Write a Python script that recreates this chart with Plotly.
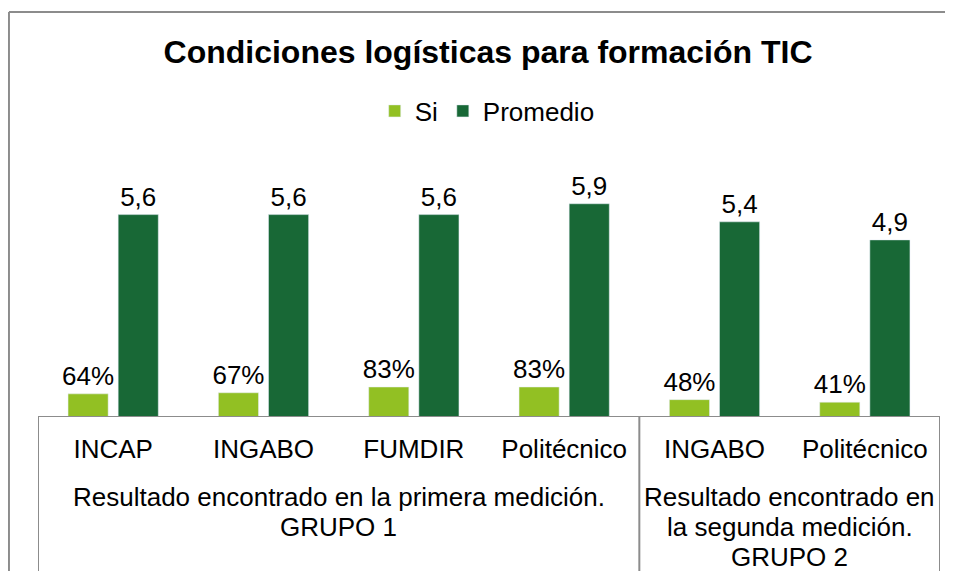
import plotly.graph_objects as go

# data
categories = ["INCAP", "INGABO", "FUMDIR", "Politécnico", "INGABO", "Politécnico"]
group_of = [0, 0, 0, 0, 1, 1]
group_lines = [
    ["Resultado encontrado en la primera medición.", "GRUPO 1"],
    ["Resultado encontrado en", "la segunda medición.", "GRUPO 2"],
]
si_values = [0.64, 0.67, 0.83, 0.83, 0.48, 0.41]
promedio_values = [5.6, 5.6, 5.6, 5.9, 5.4, 4.9]

LIGHT = "#92C023"
DARK = "#186836"
GRAY = "#8C8C8C"
FONT = "Liberation Sans, Arial, sans-serif"

x_pos = list(range(len(categories)))

fig = go.Figure()
fig.add_trace(go.Bar(
    x=x_pos, y=si_values, name="Si",
    marker=dict(color=LIGHT),
    texttemplate="%{y:.0%}", textposition="outside", constraintext="none",
    textfont=dict(size=26, color="black"), cliponaxis=False,
))
fig.add_trace(go.Bar(
    x=x_pos, y=promedio_values, name="Promedio",
    marker=dict(color=DARK),
    texttemplate="%{y:.1f}", textposition="outside", constraintext="none",
    textfont=dict(size=26, color="black"), cliponaxis=False,
))

# group labels under the category labels, one annotation per line
for g, lines in enumerate(group_lines):
    members = [i for i, gg in enumerate(group_of) if gg == g]
    xc = sum(members) / len(members)
    for k, line in enumerate(lines):
        fig.add_annotation(
            x=xc, xref="x", y=-0.316 - k * 0.119, yref="paper",
            text=line, showarrow=False, yanchor="middle",
            font=dict(size=26, color="black", family=FONT),
        )

# table lines of the category axis
bounds = [-0.5] + [i + 0.5 for i in range(len(categories) - 1) if group_of[i] != group_of[i + 1]] + [len(categories) - 0.5]
for b in bounds:
    fig.add_shape(type="line", xref="x", yref="paper", x0=b, x1=b, y0=0, y1=-0.617,
                  line=dict(color=GRAY, width=2))
fig.add_shape(type="line", xref="x", yref="y", x0=-0.5, x1=len(categories) - 0.5, y0=0, y1=0,
              line=dict(color=GRAY, width=2))

# chart border (left and top edges only are visible in the crop)
fig.add_shape(type="line", xref="paper", yref="paper", x0=-0.0322, x1=-0.0322, y0=-0.7, y1=1.6008,
              line=dict(color=GRAY, width=2))
fig.add_shape(type="line", xref="paper", yref="paper", x0=-0.0322, x1=1.2, y0=1.6008, y1=1.6008,
              line=dict(color=GRAY, width=2))

fig.update_layout(
    width=937, height=563,
    margin=dict(l=30, r=5, t=156, b=154),
    paper_bgcolor="white", plot_bgcolor="white",
    font=dict(family=FONT, size=26, color="black"),
    separators=",.",
    barmode="group", bargap=0.333, bargroupgap=0.2,
    title=dict(text="<b>Condiciones logísticas para formación TIC</b>",
               font=dict(size=32, color="black", family=FONT),
               x=0.5123, xanchor="center", y=0.9218, yanchor="middle"),
    legend=dict(orientation="h", x=0.498, xanchor="center", y=1.2095, yanchor="middle",
                font=dict(size=26), itemwidth=30, bgcolor="rgba(0,0,0,0)"),
    xaxis=dict(tickvals=x_pos, ticktext=categories, range=[-0.5, len(categories) - 0.5],
               showgrid=False, zeroline=False, showline=False,
               ticks="outside", ticklen=9, tickcolor="rgba(0,0,0,0)",
               tickfont=dict(size=26, color="black")),
    yaxis=dict(visible=False, range=[0, 7]),
    showlegend=True,
)

fig.write_html("out.html")
